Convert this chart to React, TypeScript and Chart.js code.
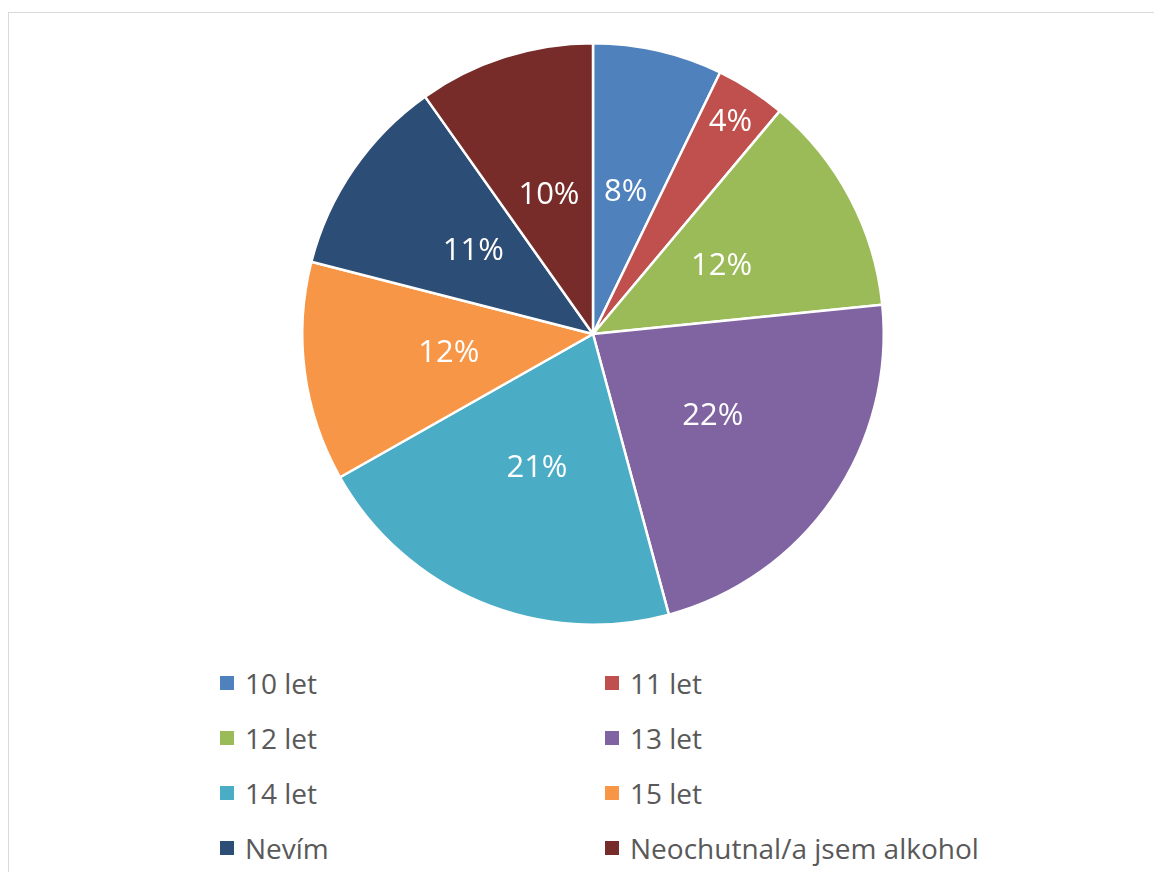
import React, { useEffect, useRef } from "react";
import { Chart, registerables } from "chart.js";

Chart.register(...registerables);

const categories = ["10 let", "11 let", "12 let", "13 let", "14 let", "15 let", "Nevím", "Neochutnal/a jsem alkohol"];
const shares = [7.2, 3.9, 12.3, 22.4, 21.0, 12.2, 11.2, 9.8];
const percentLabels = ["8%", "4%", "12%", "22%", "21%", "12%", "11%", "10%"];
const colors = ["#4F81BD", "#C0504D", "#9BBB59", "#8064A2", "#4BACC6", "#F79646", "#2C4D75", "#772C2A"];

const FONT = "'Open Sans', 'DejaVu Sans', sans-serif";

const labelPlugin = {
  id: "sliceLabels",
  afterDatasetsDraw(chart: any) {
    const meta = chart.getDatasetMeta(0);
    const ctx = chart.ctx;
    const total = shares.reduce((a, b) => a + b, 0);
    ctx.save();
    ctx.fillStyle = "#ffffff";
    ctx.font = `31px ${FONT}`;
    ctx.textAlign = "center";
    ctx.textBaseline = "middle";
    meta.data.forEach((arc: any, i: number) => {
      const { x, y, startAngle, endAngle, outerRadius } = arc.getProps(["x", "y", "startAngle", "endAngle", "outerRadius"], true);
      const mid = (startAngle + endAngle) / 2;
      const frac = shares[i] / total < 0.05 ? 0.87 : 0.5;
      const r = outerRadius * frac;
      ctx.fillText(percentLabels[i], x + Math.cos(mid) * r, y + Math.sin(mid) * r);
    });
    ctx.restore();
  },
};

export default function App() {
  const ref = useRef<HTMLCanvasElement>(null);
  useEffect(() => {
    if (!ref.current) return;
    const chart = new Chart(ref.current, {
      type: "pie",
      data: {
        labels: categories,
        datasets: [
          {
            data: shares,
            backgroundColor: colors,
            borderColor: "#ffffff",
            borderWidth: 2.5,
          },
        ],
      },
      options: {
        animation: false,
        responsive: false,
        maintainAspectRatio: false,
        layout: { padding: { left: 16 } },
        plugins: { legend: { display: false }, tooltip: { enabled: false } },
      },
      plugins: [labelPlugin],
    });
    return () => chart.destroy();
  }, []);

  return (
    <div style={{ position: "relative", width: 1154, height: 864, overflow: "hidden", fontFamily: FONT }}>
      <div
        style={{
          position: "absolute",
          left: 0,
          top: 4,
          width: 1300,
          height: 1000,
          border: "1px solid #d9d9d9",
          boxSizing: "border-box",
        }}
      />
      <canvas ref={ref} width={1154} height={584} style={{ position: "absolute", left: 0, top: 34, width: 1154, height: 584 }} />
      {categories.map((c, i) => {
        const col = i % 2;
        const row = Math.floor(i / 2);
        const left = col === 0 ? 212 : 597;
        const cy = 675 + row * 55;
        return (
          <div key={c} style={{ position: "absolute", left, top: cy - 20, height: 40, display: "flex", alignItems: "center", whiteSpace: "nowrap" }}>
            <span style={{ display: "inline-block", width: 14, height: 14, background: colors[i], marginRight: 11 }} />
            <span style={{ fontSize: 28, color: "#595959", lineHeight: "40px" }}>{c}</span>
          </div>
        );
      })}
    </div>
  );
}
